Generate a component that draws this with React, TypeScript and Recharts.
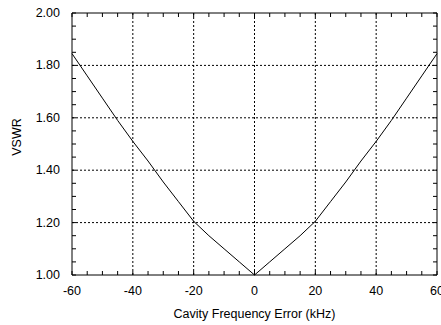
import { LineChart, Line, XAxis, YAxis, ReferenceLine, ReferenceArea, Label } from 'recharts'

const FREQ = [-60, -55, -50, -45, -40, -35, -30, -25, -20, -15, -10, -5, 0, 5, 10, 15, 20, 25, 30, 35, 40, 45, 50, 55, 60]
const VSWR = [1.845, 1.76, 1.675, 1.59, 1.51, 1.435, 1.355, 1.28, 1.205, 1.15, 1.1, 1.05, 1.0, 1.05, 1.1, 1.15, 1.205, 1.28, 1.355, 1.435, 1.51, 1.59, 1.675, 1.76, 1.845]

const X_MAJOR = [-60, -40, -20, 0, 20, 40, 60]
const X_MINOR = [-60, -55, -50, -45, -40, -35, -30, -25, -20, -15, -10, -5, 0, 5, 10, 15, 20, 25, 30, 35, 40, 45, 50, 55, 60]
const Y_MAJOR = [1.0, 1.2, 1.4, 1.6, 1.8, 2.0]
const Y_MINOR = [1.0, 1.05, 1.1, 1.15, 1.2, 1.25, 1.3, 1.35, 1.4, 1.45, 1.5, 1.55, 1.6, 1.65, 1.7, 1.75, 1.8, 1.85, 1.9, 1.95, 2.0]

const data = FREQ.map((f, i) => ({ f, v: VSWR[i] }))

const W = 441
const H = 325
const LEFT = 72
const TOP = 13
const PLOT_W = 365
const PLOT_H = 262
const TICK_LEN = 4
const FONT = '"Liberation Sans", Arial, sans-serif'
const FS = 12.5

function isMajor(list: number[], v: number) {
  return list.some(m => Math.abs(m - v) < 1e-6)
}

function XTick(props: any) {
  const { x, y, payload } = props
  const major = isMajor(X_MAJOR, payload.value)
  return (
    <g>
      <line x1={x} y1={y} x2={x} y2={y - TICK_LEN} stroke="#000" />
      <line x1={x} y1={y - PLOT_H} x2={x} y2={y - PLOT_H + TICK_LEN} stroke="#000" />
      {major && (
        <text x={x} y={y + 16} textAnchor="middle" dominantBaseline="central"
          fontFamily={FONT} fontSize={FS} fill="#000">{payload.value}</text>
      )}
    </g>
  )
}

function YTick(props: any) {
  const { x, y, payload } = props
  const major = isMajor(Y_MAJOR, payload.value)
  return (
    <g>
      <line x1={x} y1={y} x2={x + TICK_LEN} y2={y} stroke="#000" />
      <line x1={x + PLOT_W} y1={y} x2={x + PLOT_W - TICK_LEN} y2={y} stroke="#000" />
      {major && (
        <text x={x - 12} y={y} textAnchor="end" dominantBaseline="central"
          fontFamily={FONT} fontSize={FS} fill="#000">{payload.value.toFixed(2)}</text>
      )}
    </g>
  )
}

export default function App() {
  return (
    <div style={{ position: 'absolute', left: 0, top: 0, width: W, height: H, background: '#fff' }}>
      <LineChart width={W} height={H} data={data}
        margin={{ top: TOP, right: W - LEFT - PLOT_W, left: 0, bottom: 0 }}>
        <XAxis dataKey="f" type="number" domain={[-60, 60]} ticks={X_MINOR} interval={0}
          tickSize={0} tickMargin={0} axisLine={false} tick={<XTick />} height={H - TOP - PLOT_H}>
          <Label position="center" dy={14} value="Cavity Frequency Error (kHz)"
            style={{ fontFamily: FONT, fontSize: FS, fill: '#000' }} />
        </XAxis>
        <YAxis type="number" domain={[1, 2]} ticks={Y_MINOR} interval={0} width={LEFT}
          tickSize={0} tickMargin={0} axisLine={false} tick={<YTick />}>
          <Label position="center" angle={-90} dx={-19} dy={-7} value="VSWR"
            style={{ fontFamily: FONT, fontSize: FS, fill: '#000' }} />
        </YAxis>
        {X_MAJOR.slice(1, -1).map(x => (
          <ReferenceLine key={'vx' + x} x={x} stroke="#000" strokeDasharray="2 2" />
        ))}
        {Y_MAJOR.slice(1, -1).map(y => (
          <ReferenceLine key={'hy' + y} y={y} stroke="#000" strokeDasharray="2 2" />
        ))}
        <ReferenceArea x1={-60} x2={60} y1={1} y2={2} fill="none" stroke="#000" strokeWidth={1} />
        <Line type="linear" dataKey="v" stroke="#000" strokeWidth={1} dot={false} isAnimationActive={false} />
      </LineChart>
    </div>
  )
}
